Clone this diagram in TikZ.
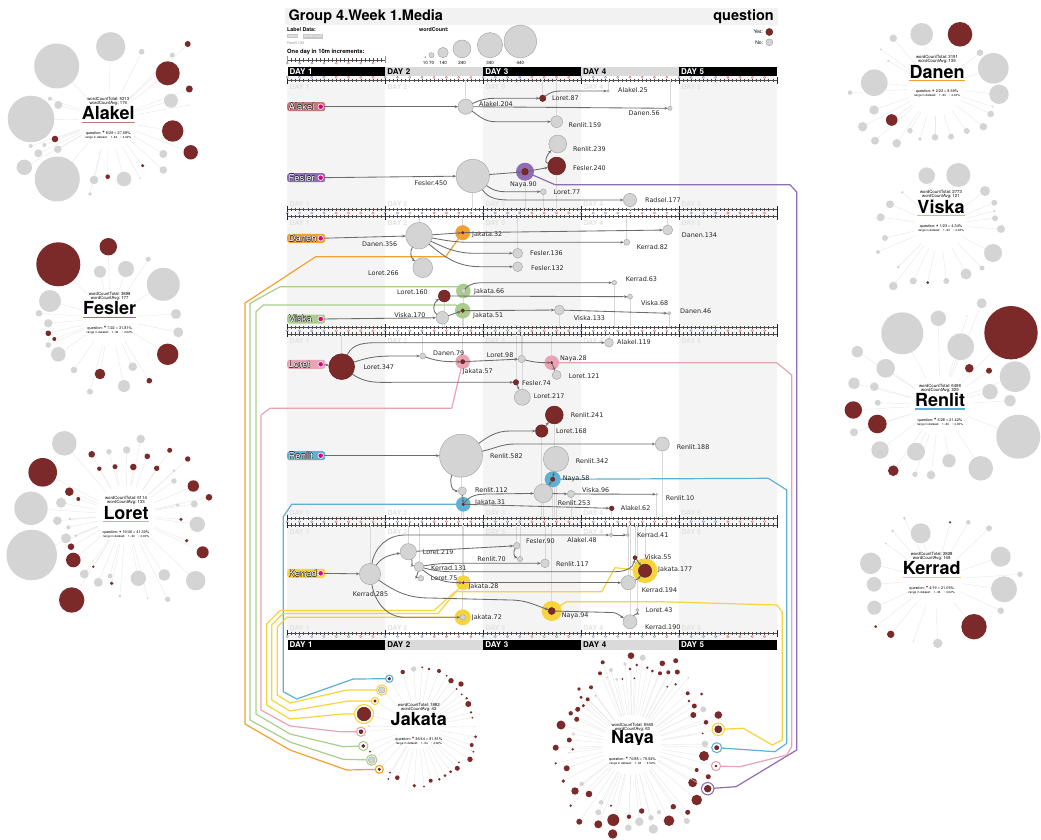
\documentclass[tikz,border=0pt]{standalone}
\usepackage{fontspec}
\setmainfont{TeX Gyre Heros}
\newfontfamily\lblfont{DejaVu Sans}
\usetikzlibrary{arrows.meta,calc}
\pgfdeclarelayer{bottom}
\pgfdeclarelayer{lines}
\pgfsetlayers{bottom,lines,main}

\definecolor{cr}{HTML}{7B2929}
\definecolor{cg}{HTML}{D4D4D4}
\definecolor{cgs}{HTML}{A9A9A9}
\definecolor{corange}{HTML}{F2A131}
\definecolor{cgreen}{HTML}{A9CE8C}
\definecolor{cpink}{HTML}{EAA3B3}
\definecolor{cblue}{HTML}{5EB1D3}
\definecolor{cyellow}{HTML}{F6D43B}
\definecolor{cpurple}{HTML}{8E6DB4}
\definecolor{calak}{HTML}{C07B78}
\definecolor{cmag}{HTML}{E4007C}
\definecolor{colbg}{HTML}{F4F4F4}
\definecolor{barg}{HTML}{DADADA}
\definecolor{dotb}{HTML}{7F8FC8}
\definecolor{dotr}{HTML}{E86A6A}

\tikzset{
  nog/.style={circle, fill=cg, draw=cgs, line width=0.5pt, inner sep=0pt, outer sep=0pt},
  nor/.style={circle, fill=cr, draw=cr!80!black, line width=0.5pt, inner sep=0pt, outer sep=0pt},
  halo/.style={circle, inner sep=0pt, outer sep=0pt, draw=none},
  ring/.style={circle, fill=white, line width=1.1pt, inner sep=0pt, outer sep=0pt},
  lab/.style={font=\lblfont\fontsize{6.4}{6.6}\selectfont, text=black!85, inner sep=0pt},
  edge/.style={draw=black!58, line width=0.85pt, -{Stealth[length=3.4pt,width=2.8pt]}},
  tsl/.style={draw=black!15, line width=0.6pt},
  link/.style={line width=1.2pt, line join=round},
  tagbox/.style={rounded corners=2.5pt, minimum width=38pt, minimum height=9pt, inner sep=0pt, anchor=west},
  tagtxt/.style={anchor=west, inner sep=0pt, font=\fontsize{9.5}{9.5}\selectfont},
  tagdot/.style={circle, fill=cmag, draw=white, line width=0.6pt, minimum size=5.5pt, inner sep=0pt},
  spoke/.style={draw=black!9, line width=0.4pt},
  daylab/.style={anchor=west, inner sep=0pt, font=\bfseries\fontsize{7}{7}\selectfont, text=black!11},
  daycell/.style={anchor=north west, minimum height=9.3pt, inner xsep=2pt, inner ysep=0pt,
    text width=93.9pt, align=left, font=\bfseries\fontsize{8}{8}\selectfont},
  rname/.style={inner sep=0pt, font=\bfseries\fontsize{18}{18}\selectfont},
  rtot/.style={inner sep=0pt, font=\fontsize{4.3}{4.5}\selectfont},
  rq/.style={inner sep=0pt, font=\fontsize{3.8}{4}\selectfont},
  rr/.style={inner sep=0pt, font=\fontsize{3}{3.2}\selectfont},
}

% circle node with its word-count label
\newcommand\wn[6][nog]{\node[#1, minimum size={2*(#4)}] (#2) at (#3) {};\node[lab, #5] (#2-t) {#6};}
% coloured halo behind a node
\newcommand\halonode[4]{\node[halo, fill=#4, minimum size={2*(#3)}] (#1) at (#2) {};}
% ringed node of a radial chart
\newcommand\ringn[6][nor]{\node[ring, draw=#6, minimum size={2*(#4)}] (#2) at (#3) {};\node[#1, minimum size={2*(#5)}] (#2-c) at (#3) {};}
% white text with a dark outline
\newcommand\outl[1]{\rlap{\color{black!85}\kern-0.4pt#1}\rlap{\color{black!85}\kern0.4pt#1}\rlap{\color{black!85}\raisebox{0.4pt}{#1}}\rlap{\color{black!85}\raisebox{-0.4pt}{#1}}\textcolor{white}{#1}}
% user tag on the left of a lane
\newcommand\usertag[4]{%
  \node[tagbox, fill=#4] (#1) at (287,#2) {};
  \node[tagtxt] (#1-n) at (288.5,#2) {\outl{#3}};
  \node[tagdot] (#1-d) at (320.7,#2) {};}
% ten-minute tick row
\newcommand\tickrow[1]{%
  \draw[black!70, line width=0.5pt] (287.3,#1) -- (777,#1);
  \foreach \i in {0,...,120}{\draw[black!70, line width=0.4pt] ({287.3+\i*4.0792},{#1-1.8}) -- ++(0,3.6);}
  \foreach \d in {0,...,5}{\draw[black!85, line width=0.6pt] ({287.3+\d*97.9},{#1-3.2}) -- ++(0,6.4);}}
% three-hour markers
\newcommand\hourdots[1]{%
  \foreach \d in {0,...,4}{\foreach \h in {0,...,7}{%
    \ifnum\h<4 \def\hc{dotb}\else\def\hc{dotr}\fi
    \draw[draw=\hc, line width=0.4pt, fill=white] ({287.3+\d*97.9+\h*12.24},#1) circle (1.1pt);}}}
\newcommand\daylabels[2]{\foreach \d in {1,...,5}{\node[daylab] (dl#2\d) at ({289.5+(\d-1)*97.9},#1) {DAY \d};}}
\newcommand\daybar[2]{%
  \foreach \d in {1,...,5}{%
    \ifodd\d\relax\def\fc{black}\def\tc{white}\else\def\fc{barg}\def\tc{black}\fi
    \node[daycell, fill=\fc, text=\tc] (#2\d) at ({287.3+(\d-1)*97.9},#1) {DAY \d};}}
% vertical time stamps from nodes to a ruler
\newcommand\ts[2]{\foreach \n in {#2}{\draw[tsl] (\n) -- (\n |- #1);}}
% radial chart: centre, inner radius, circles
\newcommand\radial[4]{%
  \foreach \x/\y/\r/\c in {#4}{\draw[spoke] ($(#1,#2)!#3pt!(\x,\y)$) -- (\x,\y);}
  \foreach \x/\y/\r/\c in {#4}{\fill[c\c] (\x,\y) circle (\r pt);}}
% radial chart text block
\newcommand\radtext[8]{%
  \node[rtot] (#1-tot) at (#2,#3-14.3) {wordCountTotal:\ #6};
  \node[rtot] (#1-avg) at (#2,#3-10) {wordCountAvg:\ #7};
  \node[rname] (#1) at (#2,#3) {#4};
  \draw[#5, line width=1.3pt] ($(#1.base west)+(0,2.4)$) -- ($(#1.base east)+(0,2.4)$);
  \node[rq] (#1-q) at (#2,#3+20) {question:\ {\color{cr}\raisebox{-0.4pt}{\fontsize{7}{7}\selectfont •}}\ #8};
  \node[rr] (#1-r) at (#2,#3+24.3) {range in dataset:\quad 1..34\quad\textasciitilde\ 4.02\%};}

\begin{document}
\begin{tikzpicture}[x=1pt,y=-1pt]
\useasboundingbox (0,0) rectangle (1041,840);

\begin{pgfonlayer}{bottom}
  \fill[white] (0,0) rectangle (1041,840);
  % day columns
  \foreach \d in {0,2,4}{\fill[colbg] ({287.3+\d*97.9},76) rectangle ({287.3+(\d+1)*97.9},640);}
  \fill[black!5] (285,8) rectangle (778,25.5);
  % rulers
  \tickrow{80.5}\hourdots{77.3}
  \tickrow{209.5}\hourdots{213}\tickrow{216.5}
  \tickrow{327.3}\hourdots{330.7}\tickrow{334}
  \tickrow{518.3}\hourdots{521.7}\tickrow{525}
  \tickrow{633.5}\hourdots{636.5}
\end{pgfonlayer}

\coordinate (rA) at (0,80.5);
\coordinate (rB) at (0,209.5);
\coordinate (rC) at (0,216.5);
\coordinate (rD) at (0,327.3);
\coordinate (rE) at (0,334);
\coordinate (rF) at (0,518.3);
\coordinate (rG) at (0,525);

\daylabels{87}{a}
\daylabels{204}{b}\daylabels{223}{c}
\daylabels{340.5}{e}
\daylabels{512.5}{f}\daylabels{531.5}{g}
\daylabels{628}{h}

\daybar{66.5}{dbt}
\daybar{640}{dbb}

% title and legend
\node[anchor=west, inner sep=0pt, font=\bfseries\fontsize{14.5}{15}\selectfont] (title) at (288.5,17) {Group 4.Week 1.Media};
\node[anchor=east, inner sep=0pt, font=\bfseries\fontsize{14.5}{15}\selectfont] (qtitle) at (774,17) {question};
\node[anchor=west, inner sep=0pt, font=\bfseries\fontsize{5.3}{6}\selectfont] (ldata) at (287,29.7) {Label Data:};
\node[anchor=west, fill=black!22, text=white, inner sep=0.8pt, font=\fontsize{3.8}{4}\selectfont] (lname) at (287,36.3) {name};
\node[anchor=west, fill=black!22, text=white, inner sep=0.8pt, font=\fontsize{3.8}{4}\selectfont] (lwc) at (303,36.3) {wordCount};
\node[anchor=west, inner sep=0pt, text=black!40, font=\fontsize{3.8}{4}\selectfont] (lex) at (287,42.7) {Renlit.184};
\node[anchor=west, inner sep=0pt, font=\bfseries\fontsize{5.8}{6}\selectfont] (lday) at (287,52.3) {One day in 10m increments:};
\draw[black!70, line width=0.5pt] (287.3,60) -- (385.2,60);
\foreach \i in {0,...,24}{\draw[black!70, line width=0.4pt] ({287.3+\i*4.0792},58.2) -- ++(0,3.6);}
\foreach \h in {0,...,7}{\ifnum\h<4 \def\hc{dotb}\else\def\hc{dotr}\fi
  \draw[draw=\hc, line width=0.4pt, fill=white] ({287.3+\h*12.24},63.2) circle (1pt);}
\draw[dotb, line width=1pt] (287.3,56.5) -- (287.3,63.5) (385.2,56.5) -- (385.2,63.5);

\node[anchor=west, inner sep=0pt, font=\bfseries\fontsize{5.3}{6}\selectfont] (lwct) at (419,29.7) {wordCount:};
\foreach \v/\x/\r in {10/425.3/0.6, 70/431.5/2.6, 140/443/5.2, 240/462/8.9, 340/490/12.6, 440/520.3/16.3}{
  \node[nog, minimum size={2*\r}] (lc\v) at (\x,{57.8-\r}) {};
  \node[inner sep=0pt, font=\fontsize{4.5}{5}\selectfont] (lct\v) at (\x,62.8) {\v};}
\node[anchor=east, inner sep=0pt, font=\fontsize{5}{5}\selectfont] (lyes) at (763.3,32) {Yes:};
\node[nor, minimum size=7pt] (lyesc) at (769.3,32) {};
\node[anchor=east, inner sep=0pt, font=\fontsize{5}{5}\selectfont] (lno) at (763.3,42.3) {No:};
\node[nog, minimum size=7pt] (lnoc) at (769.3,42.3) {};

% ---------------- radial charts ----------------
\radial{108}{120}{30}{56.7/66/22.5/g, 110.7/46.7/14.5/g, 141.7/51.7/2.8/g, 187.7/44/3/r, 172.3/55/2.5/g, 167.7/73.3/12/r, 189.3/89/3.5/r, 171/100.7/7/g, 31/119/23.3/g, 50/98.7/2/g, 58.3/105/4/g, 172.7/131/10.7/r, 190.7/152.3/7.2/r, 55/139/3.3/r, 30.7/146/2/g, 44.3/145/2/g, 57.7/149.3/3.8/g, 38.3/153.3/4/g, 24.3/167.3/7.7/g, 57.3/179/22.5/g, 163.3/154/4/g, 163.3/170/3.8/g, 142.7/165.7/1.7/r, 107.7/176.7/2.3/r, 124/179/7.3/g, 94/180/4.3/g, 90/194/1.8/g, 140/178.3/0.8/g, 188.7/105/0.6/g}
\radtext{rAl}{108.3}{113.3}{Alakel}{calak}{5213}{174}{8/29 = 27.58\%}

\radial{110}{318}{28}{58.3/264.3/22/r, 108.3/246.7/8.7/r, 100/271.7/6/g, 126/269/8/g, 148.3/259.3/2.5/g, 163.3/284.3/16.5/g, 50/301/11/g, 39/313.3/3.3/g, 176/314/5/g, 178.3/332.3/5/g, 48.3/323.3/4.2/g, 48.3/333.3/2.8/r, 54.3/339/2/r, 48.3/345/2.8/g, 58.3/354.3/7.3/g, 167.7/354.3/10.7/r, 74/370/3.3/g, 132.7/366.7/4.3/g, 100/374/5.3/r, 149.3/380.7/2.8/r, 124/386/6/g, 90/391.7/3/g}
\radtext{rFe}{109.7}{308.3}{Fesler}{cpurple}{3898}{177}{7/22 = 31.81\%}

\radial{126}{515}{30}{64.3/443.3/12.3/g, 42.7/472.3/14.3/r, 31/508.3/16.7/g, 31.7/555/25.3/g, 71.7/600/12.7/r, 109/451.7/2.7/g, 126.7/450/3.7/g, 140.7/439/4.3/g, 91.7/454.3/3.3/r, 99.3/468.7/2.2/r, 115/466.7/2.5/r, 133.3/467/3.3/r, 147.3/456.3/2.8/r, 156.7/468.3/2.7/r, 169.7/450.3/2.5/r, 187.7/459/2.7/r, 174/470.7/1.5/g, 174/481/2.7/g, 193.3/486/5.7/r, 209/497.3/3.3/r, 177.7/505/1.8/g, 194.3/504/3.5/g, 181/519.3/1.7/r, 197.3/524.3/7.7/g, 186.7/540.7/1.8/r, 202.7/552.3/6/r, 195.7/580.7/9.7/g, 164.3/575/5.7/g, 138.3/578.3/7.7/g, 167.7/599.3/2.7/g, 147.7/598.3/0.8/g, 120/596/1.5/g, 111.7/583.3/1.8/r, 110/576/2.5/g, 98.3/582.3/4.5/g, 84.3/574/4.5/g, 93.3/566.7/1.3/r, 73.3/560/7.3/r, 71/546.7/3.3/r, 66/538.3/5/g, 76/535.7/1.3/g, 68.3/527.3/2/g, 57.3/520.7/4.3/g, 70/519/1.3/g, 61/502.7/5/g, 69.3/491.7/4.3/r, 78.3/499/2/r}
\radtext{rLo}{126}{512.7}{Loret}{cpink}{6114}{133}{19/46 = 41.30\%}

\radial{935}{88}{28}{921.7/34.3/11.3/g, 960/34.3/12.3/r, 893.3/38.3/3.7/g, 880.7/49.3/1/g, 888.3/61/1.2/g, 980/52.7/3.3/g, 993.3/68.3/15.3/g, 874.3/82.7/13.3/g, 999/94.3/9.7/g, 850/92.7/2.3/g, 992.7/106.7/1/g, 990.7/114/3.3/g, 874/110/4.7/g, 862.7/126.7/4.7/g, 891.7/120/5.8/r, 983.3/126.7/3.8/g, 966.7/131/3/g, 910/130.7/2.7/g, 951/136.7/3/g, 935/137.3/3.3/g, 920/139/1.8/g, 896.7/143.3/4.3/g, 875/140.7/4/g}
\radtext{rDa}{937}{71.7}{Danen}{corange}{3191}{139}{2/23 = 8.69\%}

\radial{940}{225}{26}{926.7/175.7/8.3/g, 958.3/175/12/g, 985/191/5/g, 994.3/202.7/3/g, 902.3/192.3/1.3/g, 890/204.3/4/g, 880.7/217.3/4/g, 994.3/211/1.2/g, 995/218.3/3/g, 1001/229/4/g, 993/253/9/g, 885/238/3/g, 878/252/2/g, 893.3/286/4.3/g, 913.3/281/3.5/g, 927.7/282.7/1.5/r, 946.3/281/3/g, 966/274/5.5/g, 982/268/2.5/g, 898/267/1.5/g}
\radtext{rVi}{941}{206.7}{Viska}{cgreen}{2773}{121}{1/23 = 4.34\%}

\radial{940}{405}{30}{981.7/303.3/5/g, 938.3/318.3/7.7/g, 902.3/333.3/21/g, 1011/332.7/26.7/r, 960.7/346.7/13.3/g, 857.3/351.7/5.7/g, 885.7/368.3/9.3/g, 969.3/368.3/4.3/r, 989/370.7/3/r, 1015/376.7/15.3/g, 854/383.3/5.7/g, 874.3/386.7/4.3/g, 990/391.7/7.7/g, 1010/400.7/5.7/g, 877.7/402.7/3/g, 853.3/410/8.7/r, 877.3/424/9.3/r, 854/432.3/4/g, 1018.3/436.7/22/g, 880/450/8.7/g, 916/451.7/9/g, 949/460.7/6.7/g, 980.7/468.3/12.3/g, 893.3/470.7/5.3/r, 915/474.3/2.7/g, 931/475/4.3/g, 967/316/0.6/g}
\radtext{rRe}{940}{400}{Renlit}{cblue}{6498}{229}{6/28 = 21.42\%}

\radial{935}{580}{28}{904.3/518.3/1.5/g, 950/522.3/1.2/r, 968.3/522.3/2.3/g, 892.7/531/1.5/g, 920.7/533.3/10/g, 989/528.3/3/g, 885.7/543.3/0.8/g, 1000.7/556.7/10/g, 870.7/563.3/10.7/g, 1020/574.3/2.7/g, 874/584.3/7.3/g, 1004/589.3/13/g, 874.3/607.7/7/g, 1000.7/610.7/3.3/g, 974/626.7/12.7/r, 875.7/626.7/1.5/r, 890.7/634.3/3.7/r, 937.7/643.3/4.7/g, 913.3/641.7/0.6/g}
\radtext{rKe}{931.7}{568.3}{Kerrad}{cyellow}{2828}{149}{4/19 = 21.05\%}

\radial{418}{727}{22}{402.7/672/2.2/r, 413.7/669/2.7/g, 422.3/667.3/1/r, 429/669/1.3/r, 439/671/2/r, 446.7/675.7/1/r, 451/680.7/2.7/r, 461/684/2.7/r, 456.7/689/1/r, 461.7/694.3/1/r, 466.7/698.3/1.3/r, 468.3/704/3/r, 471/712.3/1.3/r, 472.3/717.7/1/r, 475/726.7/0.5/g, 475.7/736.7/1.5/r, 471.7/745/2/r, 473.3/751.7/1/r, 470/759.3/2.7/r, 459/762.3/1/r, 457.3/768.3/2.5/r, 450.7/771.7/1.5/r, 445/775.7/1.5/r, 439.3/779.3/1.3/r, 430.7/780.7/2/r, 424/786.7/1/r, 414.3/785.7/1.8/r, 405.7/784/0.5/g, 397.3/777.7/2.3/r, 388.3/779/1/r, 390/772.7/1/r, 370/751.7/1/r, 369/726/0.5/r}
\foreach \x/\y in {389.3/678.7, 381.7/690, 375/701, 364/714, 361/731.7, 363.3/746, 371.7/760, 379.3/769.3}{\draw[spoke] ($(418,727)!22pt!(\x,\y)$) -- (\x,\y);}
\radtext{rJa}{418.8}{719}{Jakata}{white}{1882}{43}{36/44 = 81.81\%}

\radial{632}{745}{30}{631/655.7/3.3/r, 642.7/657.7/3/g, 602.7/662.3/2/r, 625/664/1.8/g, 636.7/665/1.3/r, 662.3/663.3/2.8/r, 675.7/660.7/2.5/r, 630/669/1.3/r, 647.3/667.7/1.3/r, 611/670/2/g, 600/673.3/2/r, 652.3/671/1.5/r, 660/673.3/2/r, 668.3/672.3/2/r, 677.3/672/2.5/r, 616.7/679.3/1.5/g, 622.3/679/1/r, 634.3/678.3/1/r, 606.7/677.7/1/g, 688.3/677.7/1/g, 675.7/684.3/1.3/r, 667.3/686.7/1/r, 591/687.3/2/r, 579/689/1.8/r, 701.7/694/1.5/r, 687.7/693.3/2/r, 581/697.3/1.7/r, 595.7/695.7/1.3/g, 587.7/699.3/2/r, 689/701/1.3/r, 694.3/706/2.5/r, 577.7/709.3/2.5/r, 583.3/705.7/1.7/r, 703.3/709.3/3/g, 570.7/713.3/2.2/r, 693.3/715/3/r, 718.3/715/3.8/r, 576.7/719.3/2.5/r, 706/722.3/2.3/r, 561/725/4.5/r, 573.3/734/1.7/g, 702.7/733.3/1/r, 569.3/740/2.5/r, 705/744/3.3/g, 555.7/747.7/3/r, 572.7/749.3/1.3/r, 569/752.7/0.8/g, 704/756/5/r, 555.7/763.3/1.2/r, 566.7/768.3/3/r, 696.7/770/2/r, 708.3/776.7/2.5/r, 563.3/781/1.8/r, 692.7/782.7/4.5/r, 581.7/784/2.3/g, 575/791/3.7/r, 589/794/3.3/r, 696.7/800/5.3/r, 601/802.3/2.3/g, 570.7/805.7/1.3/r, 611/805.7/1.2/r, 598.3/812.3/3/g, 673.3/806.7/2.7/r, 687.7/812.3/2.5/r, 641.7/811/2.7/r, 659/812.3/2.2/g, 629/816.7/2.2/r, 651/817.7/2.7/g, 669/820.7/5.3/r, 686.7/821/3/g, 613.3/820/6/r, 639.3/821.7/4.3/g, 579.3/821.7/3/r, 598.3/824.3/4/r, 628.3/827.7/3.3/g, 653.3/829/4.7/g, 612.7/834/4.7/r}
\foreach \x/\y in {718.3/729.3, 716.7/747.7, 716/766, 707.7/788.7}{\draw[spoke] ($(632,745)!30pt!(\x,\y)$) -- (\x,\y);}
\radtext{rNa}{632.5}{739}{Naya}{white}{5545}{63}{70/88 = 79.54\%}

% ringed nodes that receive the coloured links
\ringn{jr1}{389.3,678.7}{3.6}{1.4}{cblue}
\ringn[nog]{jr2}{381.7,690}{5.2}{3.3}{cyellow}
\ringn{jr3}{375,701}{3.6}{1.3}{cyellow}
\ringn{jr4}{364,714}{9.5}{6.8}{cyellow}
\ringn{jr5}{361,731.7}{4.6}{2}{cpink}
\ringn{jr6}{363.3,746}{4.6}{1.6}{cgreen}
\ringn[nog]{jr7}{371.7,760}{5.2}{3.3}{cgreen}
\ringn{jr8}{379.3,769.3}{4}{1.3}{corange}
\ringn{nr1}{718.3,729.3}{6.2}{3.6}{cyellow}
\ringn{nr2}{716.7,747.7}{5}{2.1}{cblue}
\ringn{nr3}{716,766}{4.6}{1}{cpink}
\ringn{nr4}{707.7,788.7}{6.2}{3.4}{cpurple}

% ---------------- lanes ----------------
\usertag{tAl}{106.7}{Alakel}{calak}
\usertag{tFe}{177.7}{Fesler}{cpurple}
\usertag{tDa}{238.3}{Danen}{corange}
\usertag{tVi}{319}{Viska}{cgreen}
\usertag{tLo}{364.3}{Loret}{cpink}
\usertag{tRe}{455.7}{Renlit}{cblue}
\usertag{tKe}{573.3}{Kerrad}{cyellow}

% Alakel
\wn{a204}{465.7,106.7}{7.6}{anchor=west, at={(479,104.5)}}{Alakel.204}
\wn[nor]{l87}{542.7,98.3}{3.2}{anchor=west, at={(552,98.5)}}{Loret.87}
\wn{a25}{608,91}{1.2}{anchor=west, at={(618,90)}}{Alakel.25}
\wn{d56}{670,108.3}{2.1}{anchor=east, at={(660,113.5)}}{Danen.56}
\wn{r159}{556.7,121.7}{5.9}{anchor=west, at={(568.5,125.5)}}{Renlit.159}

% Fesler
\halonode{n90h}{525,171.7}{9}{cpurple}
\wn{f450}{472.7,176}{16.7}{anchor=east, at={(447.5,183.3)}}{Fesler.450}
\wn[nor]{n90}{525,171.7}{3.3}{anchor=center, at={(523.5,184.5)}}{Naya.90}
\wn[nor]{f240}{556.7,166}{8.9}{anchor=west, at={(573,167.7)}}{Fesler.240}
\wn{r239}{557.7,144}{8.9}{anchor=west, at={(573,149.3)}}{Renlit.239}
\wn{l77}{543.3,191.7}{2.9}{anchor=west, at={(553.5,192)}}{Loret.77}
\wn{rad177}{630,200}{6.6}{anchor=west, at={(645,200)}}{Radsel.177}

% Danen
\halonode{j32h}{462.7,232.7}{7.5}{corange}
\wn{d356}{419,235.7}{13.2}{anchor=east, at={(397.5,244.3)}}{Danen.356}
\wn[nor]{j32}{462.7,232.7}{1.3}{anchor=west, at={(472,234.3)}}{Jakata.32}
\wn{d134}{667.7,230}{5}{anchor=west, at={(681.7,235)}}{Danen.134}
\wn{k82}{626.7,242.3}{3}{anchor=west, at={(636.7,247.3)}}{Kerrad.82}
\wn{f136}{517.7,253.3}{5}{anchor=west, at={(530,253.3)}}{Fesler.136}
\wn{f132}{517.7,266.7}{4.9}{anchor=west, at={(531,268)}}{Fesler.132}
\wn{l266}{422.7,267.7}{9.9}{anchor=east, at={(399,273.3)}}{Loret.266}

% Viska
\halonode{j66h}{463.3,291}{7.3}{cgreen}
\halonode{j51h}{462.7,310.7}{7.8}{cgreen}
\wn{j66}{463.3,291}{2.4}{anchor=west, at={(474,291.3)}}{Jakata.66}
\wn[nor]{l160}{444.3,296}{5.9}{anchor=east, at={(428,292)}}{Loret.160}
\wn{k63}{614.3,282.7}{2.3}{anchor=west, at={(625.7,279)}}{Kerrad.63}
\wn{v68}{630,296.7}{2.5}{anchor=west, at={(641,303)}}{Viska.68}
\wn[nor]{j51}{462.7,310.7}{1.9}{anchor=west, at={(473,315.7)}}{Jakata.51}
\wn{v133}{559.3,310}{4.9}{anchor=west, at={(573.7,318)}}{Viska.133}
\wn{d46}{669,313.3}{1.7}{anchor=west, at={(680,311)}}{Danen.46}
\wn{v170}{442.3,317.7}{6.3}{anchor=east, at={(425.7,315)}}{Viska.170}

% Loret
\halonode{j57h}{462.7,361.7}{7.3}{cpink}
\halonode{n28h}{551.7,362.7}{7.3}{cpink}
\wn[nor]{l347}{341.7,366.7}{12.9}{anchor=west, at={(363.3,367.3)}}{Loret.347}
\wn{a119}{609,342.7}{4.4}{anchor=west, at={(617,342.3)}}{Alakel.119}
\wn{d79}{422.7,356}{2.9}{anchor=west, at={(433,353.3)}}{Danen.79}
\wn[nor]{j57}{462.7,361.7}{2.1}{anchor=west, at={(462.5,371.7)}}{Jakata.57}
\wn{l98}{521.7,359}{3.6}{anchor=west, at={(486.7,355)}}{Loret.98}
\wn[nor]{n28}{551.7,362.7}{1.1}{anchor=west, at={(560,358.7)}}{Naya.28}
\wn{l121}{556.7,375}{4.5}{anchor=west, at={(568.7,375.7)}}{Loret.121}
\wn[nor]{f74}{516,382.3}{2.7}{anchor=west, at={(522,382.7)}}{Fesler.74}
\wn{l217}{522.3,397.3}{8}{anchor=west, at={(533.7,396)}}{Loret.217}

% Renlit
\halonode{n58h}{552.7,479.3}{8}{cblue}
\halonode{j31h}{463.3,504.3}{7.3}{cblue}
\wn{r582}{461,455.7}{21.5}{anchor=west, at={(490,455.7)}}{Renlit.582}
\wn[nor]{l168}{541.7,431}{6.2}{anchor=west, at={(556,431.3)}}{Loret.168}
\wn[nor]{r241}{554.3,415}{8.9}{anchor=west, at={(570.7,414.7)}}{Renlit.241}
\wn{r188}{662.3,444}{7}{anchor=west, at={(676.7,447.3)}}{Renlit.188}
\wn{r342}{556,459}{12.7}{anchor=west, at={(575.7,461.3)}}{Renlit.342}
\wn[nor]{n58}{552.7,479.3}{2.1}{anchor=west, at={(562.7,478.3)}}{Naya.58}
\wn{r112}{462.3,491}{4.1}{anchor=west, at={(475,490)}}{Renlit.112}
\wn{r253}{543.3,493.3}{9.4}{anchor=west, at={(557.7,503)}}{Renlit.253}
\wn{v96}{571,494}{3.6}{anchor=west, at={(582,490)}}{Viska.96}
\wn{r10}{656.7,494.3}{0.9}{anchor=west, at={(665.7,497.7)}}{Renlit.10}
\wn[nor]{j31}{463.3,504.3}{1.3}{anchor=west, at={(475,503)}}{Jakata.31}
\wn[nor]{a62}{611.7,508.3}{2.3}{anchor=west, at={(620.7,508)}}{Alakel.62}

% Kerrad
\halonode{j28h}{463.3,582.7}{7.3}{cyellow}
\halonode{j177h}{645,570.7}{12.5}{cyellow}
\halonode{n94h}{551.7,611}{10}{cyellow}
\halonode{j72h}{462.7,617.3}{8}{cyellow}
\wn{k285}{370,574}{10.6}{anchor=center, at={(370.5,594.3)}}{Kerrad.285}
\wn{l219}{408.3,551.7}{8.1}{anchor=west, at={(422.7,552)}}{Loret.219}
\wn{f90}{516.7,545.7}{3.3}{anchor=west, at={(526,541)}}{Fesler.90}
\wn{a48}{611,535}{1.8}{anchor=east, at={(597,540)}}{Alakel.48}
\wn{k41}{627.7,535}{1.5}{anchor=west, at={(637,535)}}{Kerrad.41}
\wn{r70}{520,559}{2.6}{anchor=east, at={(506,559)}}{Renlit.70}
\wn{r117}{545,563.3}{4.3}{anchor=west, at={(556,564)}}{Renlit.117}
\wn{k131}{419,566.7}{4.9}{anchor=west, at={(431,568)}}{Kerrad.131}
\wn{l75}{421,578.3}{2.8}{anchor=west, at={(430.7,578)}}{Loret.75}
\wn[nor]{j28}{463.3,582.7}{1.1}{anchor=west, at={(468.3,587)}}{Jakata.28}
\wn[nor]{v55}{635,557.7}{2}{anchor=west, at={(644.3,557)}}{Viska.55}
\wn[nor]{j177}{645,570.7}{6.6}{anchor=west, at={(658,570)}}{Jakata.177}
\wn{k194}{628.3,582.7}{7.2}{anchor=west, at={(641.7,589.7)}}{Kerrad.194}
\wn[nor]{n94}{551.7,611}{3.5}{anchor=west, at={(561.7,615.7)}}{Naya.94}
\wn{j72}{462.7,617.3}{2.7}{anchor=west, at={(471.7,617.3)}}{Jakata.72}
\wn{l43}{637.3,610}{1.6}{anchor=west, at={(645.7,610)}}{Loret.43}
\wn{k190}{630,621.7}{7}{anchor=west, at={(645,627)}}{Kerrad.190}

% ---------------- time stamps and cross-chart links ----------------
\begin{pgfonlayer}{lines}
  \ts{rA}{a204,l87,a25,d56,r159}
  \ts{rB}{f450,n90,l77,f240,rad177}
  \ts{rC}{d356,j32,f136,k82,d134}
  \ts{rD}{l160,j66,k63,v68,d46,v133,j51,v170}
  \ts{rE}{l347,a119,d79,j57,l98,n28,f74,l217}
  \ts{rF}{r582,l168,r241,r188,r342,n58,r253,v96,r10,a62,j31}
  \ts{rG}{k285,l219,f90,a48,k41,r70,r117,k131,j28,v55,j177,k194,n94,j72,l43,k190}

  \draw[link, cpurple] (n90) -- (555,184.7) -- (790,184.7) -- (796.7,192) -- (796.7,750) -- (736,786.7) -- (nr4);
  \draw[link, cpink] (n28) -- (776.7,362.7) -- (791.7,375) -- (791.7,746.7) -- (786.7,755) -- (740,766.7) -- (nr3);
  \draw[link, cblue] (n58) -- (768.3,478.3) -- (786.7,490) -- (786.7,743.3) -- (775,751.7) -- (nr2);
  \draw[link, cyellow] (n94) -- (566.7,601.7) -- (660,601.7) -- (777,605) -- (782.3,612) -- (782.3,740) -- (772.3,745) -- (743.3,728.3) -- (nr1);

  \draw[link, corange] (j32) -- (445.7,256.7) -- (315.7,256.7) -- (245,303) -- (245,724) -- (290,750) -- (346.7,770) -- (jr8);
  \draw[link, cgreen] (j66) -- (457,286.7) -- (280,286.7) -- (250,303.3) -- (250,720) -- (290,742) -- (343.3,759.3) -- (jr7);
  \draw[link, cgreen] (j51) -- (456,305) -- (263.3,305) -- (256,311.7) -- (256,714) -- (290,734) -- (343.3,746.7) -- (jr6);
  \draw[link, cpink] (j57) -- (451.7,408.3) -- (270,408.3) -- (261,415) -- (261,710) -- (290,726) -- (340,731.7) -- (jr5);
  \draw[link, cblue] (j31) -- (291.7,504.3) -- (283.3,516.7) -- (283.3,691.7) -- (296.7,699) -- (353.3,679) -- (jr1);
  \draw[link, cyellow] (j177) -- (615,567.7) -- (601.7,591.7) -- (455,591.7) -- (434,610.5) -- (280,610.5) -- (266.7,624) -- (266.7,705) -- (290,719) -- (343.3,714) -- (jr4);
  \draw[link, cyellow] (j28) -- (438,613.5) -- (283,613.5) -- (271.7,625) -- (271.7,700) -- (290,711) -- (348.3,701) -- (jr3);
  \draw[link, cyellow] (j72) -- (287,617.3) -- (277.3,627) -- (277.3,695) -- (290,703) -- (347,690) -- (jr2);
\end{pgfonlayer}

% ---------------- reply edges ----------------
% Alakel
\draw[edge] (tAl-d) -- (a204);
\draw[edge] (a204) to[out=25,in=180] (495,98.3) -- (l87);
\draw[edge] (l87) to[out=40,in=180] (562,91) -- (a25);
\draw[edge] (a204) -- (d56);
\draw[edge] (a204) to[out=-35,in=180] (495,121.7) -- (r159);
% Fesler
\draw[edge] (tFe-d) -- (f450);
\draw[edge] (f450) to[out=5,in=185] (n90);
\draw[edge] (n90) -- (f240);
\draw[edge] (f240) to[out=165,in=-135] (r239);
\draw[edge] (f450) to[out=-35,in=180] (505,191.7) -- (l77);
\draw[edge] (f450) to[out=-55,in=180] (512,200) -- (rad177);
% Danen
\draw[edge] (tDa-d) -- (d356);
\draw[edge] (d356) -- (j32);
\draw[edge] (j32) -- (d134);
\draw[edge] (d356) to[out=-10,in=180] (470,242.3) -- (k82);
\draw[edge] (d356) to[out=-25,in=180] (475,253.3) -- (f136);
\draw[edge] (d356) to[out=-40,in=180] (480,266.7) -- (f132);
\draw[edge] (d356) to[out=-120,in=140] (l266);
% Viska
\draw[edge] (tVi-d) -- (v170);
\draw[edge] (v170) -- (j51);
\draw[edge] (j51) -- (v133);
\draw[edge] (v133) -- (d46);
\draw[edge] (v170) to[out=150,in=-150] (l160);
\draw[edge] (l160) -- (v68);
\draw[edge] (j66) to[out=50,in=180] (485,282.7) -- (k63);
% Loret
\draw[edge] (tLo-d) -- (l347);
\draw[edge] (l347) to[out=65,in=180] (380,342.7) -- (a119);
\draw[edge] (l347) to[out=20,in=180] (395,356) -- (d79);
\draw[edge] (d79) to[out=-20,in=180] (j57);
\draw[edge] (j57) -- (l98);
\draw[edge] (l98) to[out=-15,in=180] (n28);
\draw[edge] (n28) -- (l121);
\draw[edge] (l347) to[out=-35,in=180] (395,382.3) -- (f74);
\draw[edge] (f74) -- (l217);
% Renlit
\draw[edge] (tRe-d) -- (r582);
\draw[edge] (r582) to[out=35,in=180] (510,431) -- (l168);
\draw[edge] (l168) -- (r241);
\draw[edge] (r582) to[out=12,in=180] (515,444) -- (r188);
\draw[edge] (r342) -- (n58);
\draw[edge] (n58) -- (r253);
\draw[edge] (r582) to[out=-115,in=180] (r112);
\draw[edge] (r112) -- (j31);
\draw[edge] (j31) to[out=55,in=180] (490,494) -- (r253);
\draw[edge] (r253) -- (v96);
\draw[edge] (v96) -- (r10);
\draw[edge] (j31) -- (a62);
% Kerrad
\draw[edge] (tKe-d) -- (k285);
\draw[edge] (k285) to[out=80,in=180] (405,535) -- (a48);
\draw[edge] (a48) -- (k41);
\draw[edge] (k285) to[out=55,in=190] (l219);
\draw[edge] (l219) -- (f90);
\draw[edge] (f90) to[out=-120,in=160] (r70);
\draw[edge] (l219) to[out=-65,in=170] (k131);
\draw[edge] (k131) to[out=10,in=180] (460,563.3) -- (r117);
\draw[edge] (k131) to[out=-100,in=170] (l75);
\draw[edge] (k131) to[out=-15,in=180] (470,571.7) -- (615,571.7) to[out=0,in=-100] (v55);
\draw[edge] (v55) -- (j177);
\draw[edge] (k131) to[out=-40,in=180] (j28);
\draw[edge] (j28) -- (k194);
\draw[edge] (k194) to[out=20,in=-130] (j177);
\draw[edge] (k285) to[out=-35,in=180] (430,598) -- (510,600) to[out=0,in=160] (n94);
\draw[edge] (n94) -- (612,612.5) to[out=0,in=150] (k190);
\draw[edge] (k190) to[out=60,in=-85] (l43);
\draw[edge] (k285) to[out=-80,in=180] (405,617.3) -- (j72);
\end{tikzpicture}
\end{document}
